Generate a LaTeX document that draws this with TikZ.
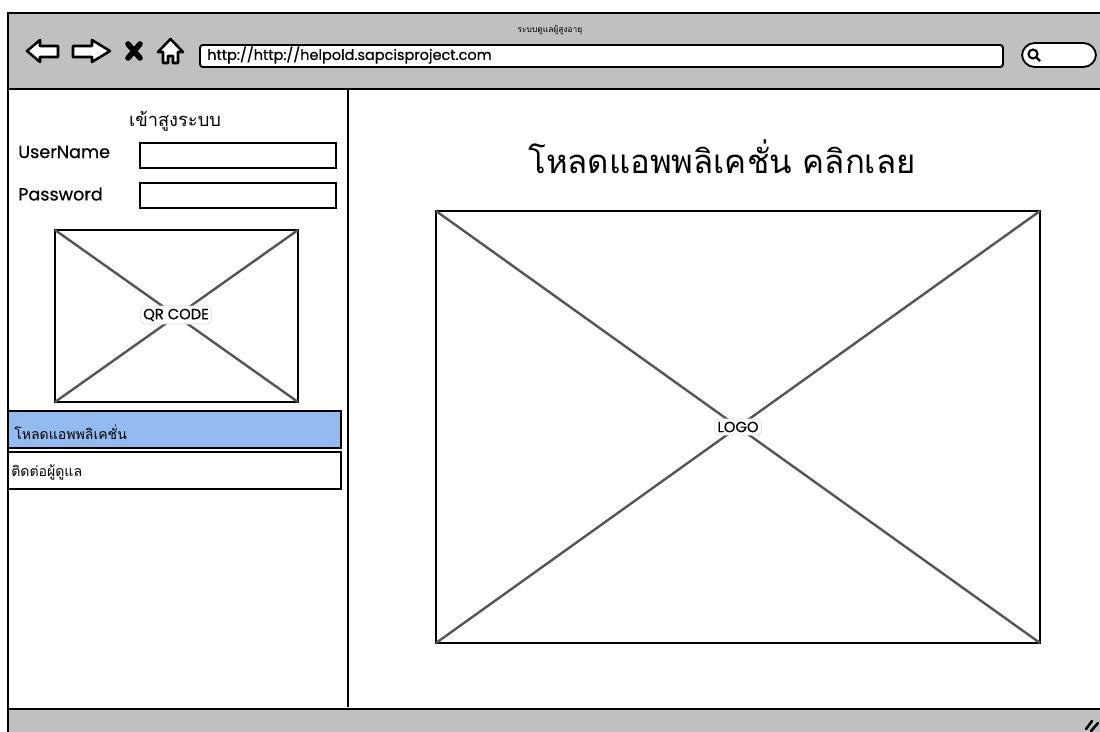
\documentclass[tikz,border=0pt]{standalone}
\usepackage{fontspec}
\setmainfont{Poppins}
\newfontfamily\uifont{Poppins}[FakeBold=0.6]
\newfontfamily\thaifont[Script=Thai]{Loma}
\definecolor{barGray}{RGB}{192,192,192}
\definecolor{menuBlue}{RGB}{147,187,240}
\definecolor{crossGray}{RGB}{85,85,85}
\tikzset{
  frame/.style={draw=black, line width=1.8pt},
  inbox/.style={draw=black, line width=1.3pt, fill=white},
  icon/.style={draw=black, line width=1.8pt, fill=white, line join=round},
  cross/.style={draw=crossGray, line width=1.7pt},
  tag/.style={draw=black!15, fill=white, rounded corners=3pt, inner sep=2pt, font=\uifont\fontsize{10.5}{11}\selectfont},
  lbl/.style={anchor=west, inner sep=0pt, font=\uifont\fontsize{12.5}{13}\selectfont}
}
\begin{document}
\begin{tikzpicture}[x=0.25mm, y=-0.25mm]
\useasboundingbox (0,0) rectangle (1100,731);
\clip (0,0) rectangle (1100,731);
%\draw [lightgray](0,0) grid[step=50] (1100,731);

% window and bars
\fill [barGray](8,13) rectangle (1110,89);
\fill [barGray](8,709) rectangle (1110,745);
\draw [frame](8,13) rectangle (1110,745);
\draw [frame](8,89) -- (1110,89);
\draw [frame](8,709) -- (1110,709);
\draw [black, line width=1.1pt](348,90) -- (348,707);

% browser icons
\draw [icon](27,51) -- (40,40) -- (40,46) -- (58,46) -- (58,57) -- (40,57) -- (40,62) -- cycle;
\draw [icon](73,46) -- (92,46) -- (92,40) -- (110,51) -- (92,62) -- (92,57) -- (73,57) -- cycle;
\draw [black, line width=4pt, line cap=round](128,44) -- (140,58);
\draw [black, line width=4pt, line cap=round](140,44) -- (128,58);
\draw [icon](170.5,39) -- (183,52) -- (178,52) -- (178,63) -- (173,63) -- (173,56) -- (168,56) -- (168,63) -- (163,63) -- (163,52) -- (158,52) -- cycle;

\draw [inbox, rounded corners=2pt](200,45) rectangle (1003,67);
\node [lbl, font=\uifont\fontsize{10.3}{11}\selectfont] (url) at (207,55){http://http://helpold.sapcisproject.com};
\node [font=\thaifont\fontsize{6}{7}\selectfont] (wintitle) at (550,30){ระบบดูแลผู้สูงอายุ};
\draw [inbox, rounded corners=9pt](1022,43) rectangle (1096,67);
\draw [black, line width=1.5pt](1033,54) circle [radius=4.5];
\draw [black, line width=1.7pt](1036,57) -- (1040,61);

% login panel
\node [font=\thaifont\fontsize{13}{14}\selectfont] (login) at (175,121){เข้าสูงระบบ};
\node [lbl] (usrlbl) at (18,152){UserName};
\draw [inbox](140,143) rectangle (336,168);
\node [lbl] (pwdlbl) at (18,194){Password};
\draw [inbox](140,183) rectangle (336,208);

\draw [inbox](55,230) coordinate (qrA) rectangle (298,402) coordinate (qrB);
\draw [cross](qrA) -- (qrB);
\draw [cross](qrA |- qrB) -- (qrA -| qrB);
\node [tag] (qrtag) at (176,315){QR CODE};

\draw [inbox, fill=menuBlue](8,411) rectangle (341,448);
\node [lbl, font=\thaifont\fontsize{10}{11}\selectfont] (menudl) at (14,432){โหลดแอพพลิเคชั่น};
\draw [inbox](8,452) rectangle (341,489);
\node [lbl, font=\thaifont\fontsize{10}{11}\selectfont] (menucontact) at (11,472){ติดต่อผู้ดูแล};

% main area
\node [font=\thaifont\fontsize{23.4}{26}\selectfont] (headline) at (722,157){โหลดแอพพลิเคชั่น คลิกเลย};
\draw [inbox](436,211) coordinate (logoA) rectangle (1040,643) coordinate (logoB);
\draw [cross](logoA) -- (logoB);
\draw [cross](logoA |- logoB) -- (logoA -| logoB);
\node [tag] (logotag) at (738,427){LOGO};

% resize grip
\draw [black, line width=1.8pt, line cap=round](1086,729) -- (1092,721);
\draw [black, line width=1.8pt, line cap=round](1091,731) -- (1098,723);
\end{tikzpicture}
\end{document}
